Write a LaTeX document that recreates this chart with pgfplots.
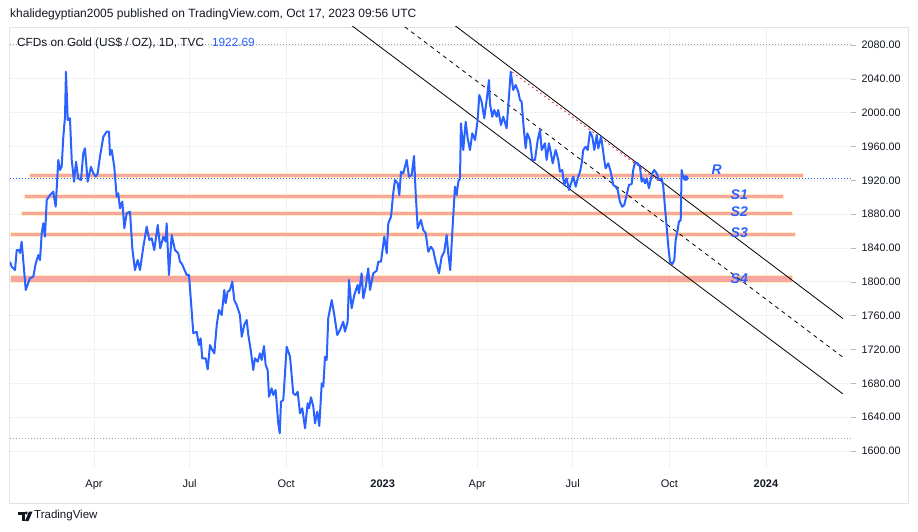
\documentclass[border=0pt]{standalone}
\usepackage{fontspec}
\setmainfont{Liberation Sans}
\usepackage{pgfplots}
\pgfplotsset{compat=1.18}
\definecolor{tvblue}{RGB}{41,98,255}
\definecolor{tvtext}{RGB}{19,23,34}
\definecolor{tvgrid}{RGB}{238,241,247}
\definecolor{bandfill}{RGB}{247,166,161}
\definecolor{bandedge}{RGB}{255,238,185}
\definecolor{tvframe}{RGB}{224,227,235}
\definecolor{tvred}{RGB}{242,54,69}
\begin{document}
\begin{tikzpicture}[x=1pt,y=1pt]
\path[use as bounding box] (0,0) rectangle (918,-532);
\fill[white] (0,0) rectangle (918,-532);
\node[anchor=west, font=\fontsize{12}{14}\selectfont, text=tvtext, inner sep=0] at (10,-14) {khalidegyptian2005 published on TradingView.com, Oct 17, 2023 09:56 UTC};
\draw[tvframe, line width=1pt] (9.5,-27.5) rectangle (908,-503);
\begin{axis}[
  at={(10pt,-27pt)}, anchor=north west, scale only axis,
  width=841pt, height=441pt,
  xmin=10, xmax=811, ymin=1579.9, ymax=2101.3,
  axis line style={draw=none},
  grid=major, grid style={tvgrid, line width=0.9pt},
  xtick={90,181,273,365,455,546,638,730},
  xticklabels={Apr,Jul,Oct,\textbf{2023},Apr,Jul,Oct,\textbf{2024}},
  ytick={1600,1640,1680,1720,1760,1800,1840,1880,1920,1960,2000,2040,2080},
  yticklabels={1600.00,1640.00,1680.00,1720.00,1760.00,1800.00,1840.00,1880.00,1920.00,1960.00,2000.00,2040.00,2080.00},
  yticklabel pos=right, ytick pos=right, tick align=outside,
  major tick length=5pt,
  ytick style={draw=gray!55, line width=0.6pt},
  xtick style={draw=none},
  tick label style={font=\fontsize{10.8}{12}\selectfont, text=tvtext},
  yticklabel style={anchor=west, xshift=2pt},
  xticklabel style={font=\fontsize{11}{12}\selectfont, yshift=-3pt},
]
% horizontal support / resistance bands
\addplot[fill=bandfill, draw=bandedge, line width=0.8pt] coordinates {(28.1,1924.0) (765.2,1924.0) (765.2,1928.6) (28.1,1928.6)} -- cycle;
\addplot[fill=bandfill, draw=bandedge, line width=0.8pt] coordinates {(23.3,1899.2) (746.2,1899.2) (746.2,1903.9) (23.3,1903.9)} -- cycle;
\addplot[fill=bandfill, draw=bandedge, line width=0.8pt] coordinates {(20.5,1879.1) (754.8,1879.1) (754.8,1883.8) (20.5,1883.8)} -- cycle;
\addplot[fill=bandfill, draw=bandedge, line width=0.8pt] coordinates {(10,1853.9) (757.6,1853.9) (757.6,1858.6) (10,1858.6)} -- cycle;
\addplot[fill=bandfill, draw=bandedge, line width=0.8pt] coordinates {(10,1799.8) (754.8,1799.8) (754.8,1808.1) (10,1808.1)} -- cycle;
% dotted reference lines
\addplot[gray!75, line width=0.7pt, dash pattern=on 1pt off 2pt] coordinates {(10,2080.5) (811,2080.5)};
\addplot[gray!75, line width=0.7pt, dash pattern=on 1pt off 2pt] coordinates {(10,1615.4) (811,1615.4)};
\addplot[tvblue, line width=0.8pt, dash pattern=on 1pt off 2pt] coordinates {(10,1922.69) (811,1922.69)};
% channel
\addplot[black, line width=0.8pt] coordinates {(430,2106.5) (803.3,1756.6)};
\addplot[black, line width=0.8pt, dash pattern=on 4pt off 4pt] coordinates {(380,2107.1) (803.3,1710.9)};
\addplot[black, line width=0.8pt] coordinates {(335,2103.4) (803.3,1667.5)};
\addplot[tvred, line width=0.8pt, dash pattern=on 2pt off 3pt] coordinates {(488.1,2048.1) (629.0,1918.0)};
% price
\addplot[tvblue, line width=2pt, line join=round] coordinates {
(10.0,1823.8) (11.6,1817.9) (14.8,1814.0) (16.4,1837.6) (18.6,1837.6) (19.5,1834.1) (21.1,1847.5) (25.0,1790.4)
(29.0,1804.2) (32.2,1806.1) (34.5,1821.9) (37.0,1831.7) (38.6,1825.8) (40.2,1857.4) (41.7,1869.2) (43.3,1853.4)
(45.0,1896.8) (48.1,1902.7) (51.2,1906.6) (53.5,1888.8) (56.0,1944.1) (57.6,1932.2) (59.2,1936.1) (60.8,1971.6)
(62.4,1995.2) (63.3,2048.4) (65.0,1991.3) (67.1,1993.4) (68.8,1944.1) (71.0,1918.4) (72.9,1942.0) (75.0,1922.4)
(77.6,1920.4) (79.8,1952.0) (81.4,1957.9) (84.0,1918.4) (87.1,1936.1) (89.3,1928.3) (91.6,1924.3) (93.5,1928.3)
(95.7,1948.0) (98.9,1971.6) (102.1,1977.5) (104.3,1977.5) (105.2,1950.0) (106.9,1955.9) (109.3,1936.1) (111.6,1900.7)
(113.1,1904.7) (114.8,1886.9) (117.0,1894.8) (118.9,1863.3) (121.1,1881.0) (124.3,1882.9) (126.5,1839.7) (129.0,1814.0)
(131.6,1825.8) (133.8,1814.0) (137.0,1841.5) (140.2,1865.2) (142.7,1849.5) (145.0,1851.5) (147.4,1837.6) (150.7,1867.2)
(153.1,1839.7) (156.0,1853.4) (158.3,1847.5) (159.2,1869.2) (161.4,1808.1) (164.0,1855.4) (167.1,1837.6) (170.3,1833.7)
(171.9,1823.8) (173.5,1821.9) (178.3,1808.1) (180.5,1808.1) (184.6,1739.2) (187.8,1741.0) (190.0,1725.3) (191.6,1733.2)
(193.1,1709.6) (196.4,1709.6) (198.3,1696.6) (200.5,1725.3) (202.7,1719.4) (204.6,1715.5) (206.9,1749.0) (209.0,1766.7)
(211.6,1760.8) (214.1,1790.4) (215.4,1774.6) (217.3,1788.3) (219.5,1790.4) (221.7,1800.2) (223.6,1778.5) (225.9,1772.6)
(229.0,1760.8) (230.7,1735.1) (233.1,1749.0) (235.4,1754.9) (237.0,1737.1) (239.5,1717.4) (241.7,1695.8) (243.3,1709.6)
(245.9,1705.6) (248.1,1715.5) (249.7,1707.6) (251.9,1724.1) (253.5,1701.7) (255.4,1695.8) (256.7,1664.2) (259.2,1674.1)
(260.8,1666.2) (263.0,1672.1) (265.5,1632.7) (266.9,1620.9) (268.1,1658.3) (270.3,1660.3) (273.5,1723.3) (276.7,1711.5)
(279.8,1668.2) (282.1,1666.2) (284.0,1670.1) (286.2,1644.6) (288.4,1650.5) (291.0,1626.8) (293.5,1656.4) (294.8,1650.5)
(296.7,1663.5) (298.9,1652.4) (300.5,1632.7) (302.7,1646.5) (304.6,1629.6) (306.9,1680.0) (308.4,1676.0) (310.0,1711.5)
(311.6,1707.6) (313.1,1756.9) (316.4,1778.5) (318.9,1760.8) (321.7,1737.1) (324.3,1743.1) (327.4,1752.9) (329.0,1741.0)
(331.6,1752.9) (332.9,1802.2) (335.4,1768.7) (337.9,1784.4) (341.1,1796.3) (342.4,1786.5) (344.9,1810.1) (346.5,1780.5)
(348.8,1794.3) (351.2,1816.0) (352.9,1790.4) (356.0,1810.1) (359.2,1813.2) (360.8,1823.8) (363.3,1823.8) (366.5,1853.4)
(368.8,1833.7) (370.3,1869.2) (372.9,1877.0) (375.0,1904.7) (376.7,1920.4) (379.2,1916.5) (380.8,1902.7) (382.4,1930.2)
(384.6,1928.3) (387.8,1944.1) (390.0,1924.3) (392.6,1926.3) (394.8,1948.8) (396.4,1904.7) (398.3,1863.3) (401.4,1873.1)
(403.6,1861.3) (405.9,1857.4) (408.4,1835.6) (410.9,1841.5) (413.1,1837.6) (415.4,1823.8) (418.6,1810.1) (421.1,1829.7)
(423.6,1835.6) (425.9,1855.4) (427.4,1833.7) (429.3,1814.0) (431.2,1857.4) (433.8,1912.5) (435.4,1902.7) (437.0,1918.4)
(438.6,1922.4) (439.5,1987.4) (441.7,1955.9) (444.0,1989.3) (445.9,1969.7) (448.1,1955.9) (450.3,1975.6) (452.9,1967.7)
(455.4,1991.3) (457.0,2020.9) (459.2,2013.0) (461.7,1993.4) (464.0,2015.0) (466.2,2038.6) (467.1,2011.1) (469.3,1995.2)
(471.2,2003.2) (473.5,1995.2) (475.0,2003.2) (477.6,1985.4) (479.8,1995.2) (483.0,1981.5) (485.2,2018.9) (486.9,2048.4)
(489.3,2026.8) (491.6,2032.7) (494.1,2024.8) (495.7,2015.0) (497.3,2013.0) (498.9,1987.4) (501.1,1957.9) (502.7,1975.6)
(505.2,1967.7) (507.4,1944.1) (510.0,1944.1) (512.6,1967.7) (514.8,1979.5) (516.4,1955.9) (519.5,1963.8) (521.1,1944.1)
(523.3,1963.8) (525.2,1952.0) (526.9,1940.2) (529.7,1955.9) (532.2,1944.1) (533.8,1930.2) (536.0,1932.2) (537.9,1914.5)
(540.2,1922.4) (542.4,1908.6) (544.3,1916.5) (546.5,1924.3) (548.8,1912.5) (550.7,1922.4) (552.9,1930.2) (554.5,1940.2)
(556.0,1955.9) (558.3,1959.8) (560.2,1955.9) (562.4,1977.5) (564.6,1971.6) (566.5,1955.9) (568.8,1973.6) (570.3,1957.9)
(572.9,1971.6) (574.1,1961.8) (576.0,1944.1) (577.3,1934.2) (579.8,1940.2) (582.1,1930.2) (584.6,1914.5) (586.9,1912.5)
(588.8,1908.6) (590.9,1894.8) (593.1,1888.8) (595.0,1890.8) (597.3,1902.7) (599.5,1914.5) (602.1,1915.7) (603.6,1932.2)
(605.2,1940.9) (607.8,1940.2) (610.0,1936.1) (611.6,1918.4) (613.1,1922.4) (614.8,1916.5) (616.4,1922.4) (618.6,1910.6)
(620.5,1922.4) (621.7,1928.3) (623.6,1932.2) (625.9,1928.3) (628.1,1920.4) (630.7,1922.4) (632.2,1912.5) (633.8,1888.8)
(635.4,1865.2) (637.0,1841.5) (638.6,1823.8) (640.8,1821.1) (642.7,1825.8) (644.0,1849.5) (645.9,1861.3) (647.1,1871.1)
(648.8,1873.1) (649.7,1932.2) (651.3,1922.4) (653.5,1922.7)
};
\addplot[only marks, mark=*, mark size=2.6pt, tvblue] coordinates {(653.5,1922.7)};
% band labels
\node[text=tvblue, font=\fontsize{14}{16}\selectfont\bfseries\itshape] at (axis cs:683.0,1932.2) {R};
\node[text=tvblue, font=\fontsize{14}{16}\selectfont\bfseries\itshape] at (axis cs:704.6,1903.5) {S1};
\node[text=tvblue, font=\fontsize{14}{16}\selectfont\bfseries\itshape] at (axis cs:704.6,1882.9) {S2};
\node[text=tvblue, font=\fontsize{14}{16}\selectfont\bfseries\itshape] at (axis cs:704.6,1858.1) {S3};
\node[text=tvblue, font=\fontsize{14}{16}\selectfont\bfseries\itshape] at (axis cs:704.6,1804.2) {S4};
\end{axis}
\node[anchor=west, font=\fontsize{11.8}{13}\selectfont, text=tvtext, inner sep=0] at (17,-43) {CFDs on Gold (US\$ / OZ), 1D, TVC\hspace{8pt}\textcolor{tvblue}{1922.69}};
% TradingView logo
\fill[tvtext] (18,-511.5) rectangle (24.5,-514.5);
\fill[tvtext] (21.5,-514.5) rectangle (24.5,-521);
\fill[tvtext] (26.3,-513) circle (1.6);
\fill[tvtext] (29,-511.5) -- (32.5,-511.5) -- (28.5,-521) -- (25,-521) -- cycle;
\node[anchor=west, font=\fontsize{11.5}{13}\selectfont, text=tvtext, inner sep=0] at (34,-516) {TradingView};
\end{tikzpicture}
\end{document}
